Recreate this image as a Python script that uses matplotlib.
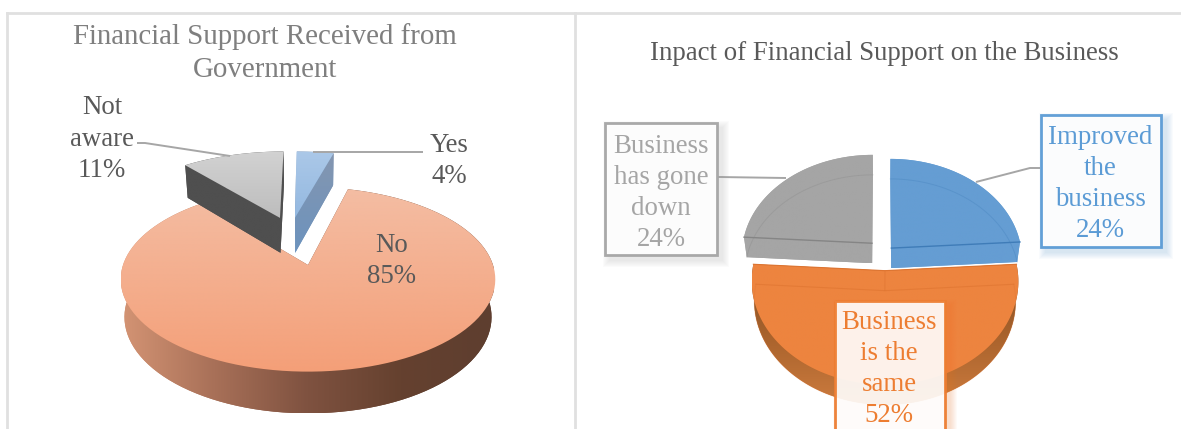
import numpy as np
import matplotlib
matplotlib.use('Agg')
import matplotlib.pyplot as plt
from matplotlib.colors import LinearSegmentedColormap
from matplotlib.patches import Polygon, Rectangle

plt.rcParams['font.family'] = ['Liberation Serif', 'DejaVu Serif']

###  DATA  ###

title_left = 'Financial Support Received from\nGovernment'
labels_left = ['Yes', 'No', 'Not\naware']
values_left = [4, 85, 11]

title_right = 'Inpact of Financial Support on the Business'
labels_right = ['Improved\nthe\nbusiness', 'Business\nis the\nsame', 'Business\nhas gone\ndown']
values_right = [24, 52, 24]

###  FIGURE  ###

fig = plt.figure(figsize=(11.81, 4.29), dpi=100)
ax = fig.add_axes([0, 0, 1, 1])


def wedge(start, end, du, dv, p, lower=False):
    # start, end in degrees clockwise from 12 o'clock. Apex comes first.
    t = np.radians(np.linspace(start, end, 120))
    u = np.r_[0, np.sin(t)] + du
    v = np.r_[0, np.cos(t)] + dv
    w = 1 / (1 + p['k'] * v)   # a little perspective
    x = p['cx'] + p['A'] * u * w
    y = p['cy'] - p['B'] * v * w
    if lower:
        x = p['cx'] + p['s'] * (x - p['cx'])
        y = p['cy'] + p['s'] * (y - p['cy']) + p['depth'] * w
    return np.column_stack([x, y])


def grad_fill(xy, colors, horizontal=False, span=None):
    # polygon filled with a gradient
    cmap = LinearSegmentedColormap.from_list('g', colors)
    g = np.linspace(0, 1, 256)
    g = g.reshape(1, -1) if horizontal else g.reshape(-1, 1)
    x0, y0 = xy.min(axis=0)
    x1, y1 = xy.max(axis=0)
    if span is not None and horizontal:
        x0, x1 = span
    if span is not None and not horizontal:
        y0, y1 = span
    im = ax.imshow(g, cmap=cmap, extent=(x0, x1, y1, y0), origin='upper',
                   aspect='auto', interpolation='bilinear', vmin=0, vmax=1)
    patch = Polygon(xy, closed=True, transform=ax.transData, fc='none', ec='none')
    ax.add_patch(patch)
    im.set_clip_path(patch)


def solid_3d(top, low, top_kw, side_kw):
    # side walls first, then the lid
    n = len(top)
    grad_fill(low, **side_kw)
    wall = np.vstack([top[1:], low[1:][::-1]])
    grad_fill(wall, **side_kw)
    for i, j in [(0, 1), (0, n - 1)]:
        grad_fill(np.array([top[i], top[j], low[j], low[i]]), **side_kw)
    grad_fill(top, **top_kw)


def leader(xs, ys):
    ax.plot(xs, ys, color='#A6A6A6', lw=1.4, solid_capstyle='butt', zorder=5)


###  LEFT PIE  ###

pl = dict(cx=308, cy=265, A=185, B=90, k=0.156, s=0.98, depth=37)
edges_l = np.r_[0, np.cumsum(values_left)] * 3.6
shift_l = [(-0.077, 0.57), (0, 0), (-0.165, 0.57)]
lid_l = [dict(colors=['#ABC8E8', '#93B8E0']),
         dict(colors=['#F4BDA3', '#F49F78'], span=(189, 372)),
         dict(colors=['#D2D2D2', '#BDBDBD'])]
side_l = [dict(colors=['#8496B0', '#6C93BE']),
          dict(colors=['#D49474', '#A87058', '#7F5240', '#65412F', '#5E3E2F'], horizontal=True, span=(121, 494)),
          dict(colors=['#4F4F4F', '#4F4F4F'])]

for i in [1, 2, 0]:
    du, dv = shift_l[i]
    lid = wedge(edges_l[i], edges_l[i + 1], du, dv, pl)
    low = wedge(edges_l[i], edges_l[i + 1], du, dv, pl, lower=True)
    solid_3d(lid, low, lid_l[i], side_l[i])

###  RIGHT PIE  ###

pr = dict(cx=881, cy=258, A=131, B=100, k=0.1, s=0.98, depth=20)
edges_r = np.r_[0, np.cumsum(values_right)] * 3.6
shift_r = [(0.08, 0.1), (0.03, -0.125), (-0.07, 0.15)]
fill_r = ['#659DD3', '#ED843F', '#A5A5A5']
line_r = ['#3F7CB8', '#DE7430', '#858585']

for i in range(3):
    du, dv = shift_r[i]
    lid = wedge(edges_r[i], edges_r[i + 1], du, dv, pr)
    low = wedge(edges_r[i], edges_r[i + 1], du, dv, pr, lower=True)
    if i == 1:
        solid_3d(lid, low, dict(colors=[fill_r[i], fill_r[i]]),
                 dict(colors=['#7F5028', '#A8622C', '#CC7B3E']))
    else:
        solid_3d(lid, low, dict(colors=[fill_r[i], fill_r[i]]),
                 dict(colors=[fill_r[i], fill_r[i]]))
    # see-through edges of the solid
    ax.plot(*low[1:].T, color=line_r[i], lw=0.7, alpha=0.3)
    if i == 0:
        ax.plot(*np.vstack([lid[0], lid[-1]]).T, color=line_r[i], lw=1.0)
    if i == 2:
        ax.plot(*np.vstack([lid[0], lid[1]]).T, color=line_r[i], lw=1.0)
    if i == 1:
        ax.plot(*np.vstack([lid[1], lid[0], lid[-1]]).T, color=line_r[i], lw=0.8)
        ax.plot(*np.vstack([low[1], low[0], low[-1]]).T, color=line_r[i], lw=0.8, alpha=0.6)
        ax.plot(*np.vstack([lid[0], low[0]]).T, color=line_r[i], lw=0.7, alpha=0.6)

###  FRAME AND TITLES  ###

ax.plot([7, 7], [429, 13], color='#E0E0E0', lw=2)
ax.plot([7, 1181], [13, 13], color='#E0E0E0', lw=2)
ax.plot([575, 575], [13, 429], color='#E0E0E0', lw=2)

ax.text(265, 53, title_left, ha='center', va='center', fontsize=20.75, color='#7F7F7F',
        linespacing=1.36)
ax.text(884, 53, title_right, ha='center', va='center', fontsize=19.3, color='#595959')

###  LABELS  ###

leader([313, 423], [152, 152])
leader([137, 145, 230], [143, 143, 156])
ax.text(449, 161, f'{labels_left[0]}\n{values_left[0]}%', ha='center', va='center',
        fontsize=19.4, color='#595959', linespacing=1.36, zorder=6)
ax.text(392, 261, f'{labels_left[1]}\n{values_left[1]}%', ha='center', va='center',
        fontsize=19.4, color='#595959', linespacing=1.36, zorder=6)
ax.text(102, 139, f'{labels_left[2]}\n{values_left[2]}%', ha='center', va='center',
        fontsize=19.4, color='#595959', linespacing=1.36, zorder=6)

leader([1040, 1030, 976], [168, 168, 182])
leader([718, 786], [177, 178])

boxes = [(1041, 115, 120, 132), (835, 301, 110, 140), (605, 123, 112, 132)]
box_col = ['#5B9BD5', '#ED7D31', '#A5A5A5']
text_at = [(1100, 184), (889, 369), (661, 193)]

for i in range(3):
    x, y, w, h = boxes[i]
    # soft shadow
    for grow in range(1, 8):
        ax.add_patch(Rectangle((x + 5 - grow, y + 5 - grow), w + 2 * grow, h + 2 * grow,
                               fc=box_col[i], ec='none', alpha=0.035, zorder=6))
    ax.add_patch(Rectangle((x, y), w, h, fc='white', ec='none', alpha=0.9, zorder=7))
    ax.add_patch(Rectangle((x, y), w, h, fc='none', ec=box_col[i], lw=2, zorder=7,
                           alpha=0.95))
    ax.text(text_at[i][0], text_at[i][1], f'{labels_right[i]}\n{values_right[i]}%',
            ha='center', va='center', fontsize=19.4, color=box_col[i], linespacing=1.33, zorder=8)

ax.set_xlim(0, 1181)
ax.set_ylim(429, 0)
ax.axis('off')

fig.savefig('out.png', dpi=100)
